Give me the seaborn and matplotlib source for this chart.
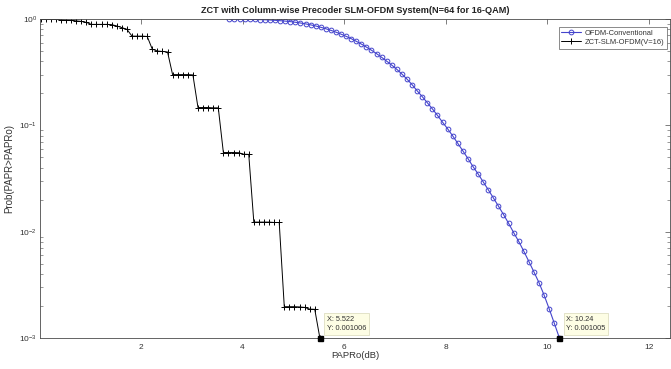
import numpy as np
import matplotlib
matplotlib.use("Agg")
import matplotlib.pyplot as plt
import seaborn as sns
from matplotlib.ticker import LogLocator, NullFormatter

# ---------------- data ----------------
title_text = "ZCT with Column-wise Precoder SLM-OFDM System(N=64 for 16-QAM)"
x_label = "PAPRo(dB)"
y_label = "Prob(PAPR>PAPRo)"
name_ofdm = "OFDM-Conventional"
name_zct = "ZCT-SLM-OFDM(V=16)"

# conventional OFDM CCDF, 0.1 dB grid from 3.74 to 10.24 dB
ofdm_x = np.round(np.arange(66) * 0.1 + 3.74, 2)
ofdm_y = [0.998, 0.9974, 0.9964, 0.995, 0.993, 0.9906, 0.9875, 0.9834, 0.9785, 0.972,
          0.964, 0.955, 0.945, 0.932, 0.917, 0.900, 0.881, 0.860, 0.836, 0.810,
          0.782, 0.752, 0.720, 0.687, 0.653, 0.617, 0.581, 0.544, 0.508, 0.472,
          0.436, 0.401, 0.368, 0.336, 0.303, 0.272, 0.241, 0.211, 0.186, 0.163,
          0.1426, 0.124, 0.107, 0.0927, 0.0795, 0.0677, 0.0575, 0.0487, 0.0409, 0.0349,
          0.0294, 0.0248, 0.0208, 0.0174, 0.0145, 0.0120, 0.0098, 0.0081, 0.00655, 0.00524,
          0.00418, 0.00331, 0.00253, 0.00188, 0.00138, 0.001005]

# ZCT-SLM-OFDM CCDF, 0.1 dB grid from 0.022 to 5.522 dB
zct_x = np.round(np.arange(56) * 0.1 + 0.022, 3)
zct_y = [1.0, 1.0, 0.995, 0.99, 0.985, 0.975, 0.97, 0.96, 0.95, 0.93,
         0.89, 0.89, 0.89, 0.89, 0.885, 0.86, 0.83, 0.80, 0.69, 0.69,
         0.69, 0.685, 0.52, 0.50, 0.495, 0.49, 0.30, 0.30, 0.30, 0.30,
         0.298, 0.147, 0.147, 0.147, 0.146, 0.146, 0.0555, 0.0555, 0.0555, 0.0553,
         0.0535, 0.0533, 0.0123, 0.0123, 0.0123, 0.0123, 0.0122, 0.0122, 0.00197, 0.00197,
         0.00197, 0.00196, 0.00194, 0.00187, 0.00186, 0.001006]

tips_x = [5.522, 10.24]
tips_y = [0.001006, 0.001005]
tips_text = ["X: 5.522\nY: 0.001006", "X: 10.24\nY: 0.001005"]

x_ticks = [2, 4, 6, 8, 10, 12]

# ---------------- style ----------------
sns.set_theme(style="white")
plt.rcParams["font.family"] = ["Liberation Sans", "DejaVu Sans"]
plt.rcParams["mathtext.fontset"] = "custom"
plt.rcParams["mathtext.rm"] = "Liberation Sans"
plt.rcParams["mathtext.it"] = "Liberation Sans:italic"
plt.rcParams["mathtext.bf"] = "Liberation Sans:bold"

text_col = "#333333"
axis_col = "#4a4a4a"
blue = "#4444cc"

fig = plt.figure(figsize=(6.71, 3.69), dpi=100)
ax = fig.add_axes([40 / 671, 31 / 369, 630 / 671, 319 / 369])

sns.lineplot(x=ofdm_x, y=ofdm_y, ax=ax, color=blue, linewidth=0.8, marker="o",
             markersize=3.4, markerfacecolor="none", markeredgecolor=blue,
             markeredgewidth=0.7, label=name_ofdm, estimator=None, sort=False)
sns.lineplot(x=zct_x, y=zct_y, ax=ax, color="black", linewidth=0.7, marker="+",
             markersize=4.5, markeredgewidth=0.7, markeredgecolor="black",
             label=name_zct, estimator=None, sort=False)

ax.set_yscale("log")
ax.set_ylim(1e-3, 1.0)
ax.set_xlim(0.01, 12.42)
ax.set_xticks(x_ticks)
ax.set_xticklabels([str(t) for t in x_ticks])
ax.yaxis.set_major_locator(LogLocator(base=10, numticks=10))
ax.yaxis.set_minor_locator(LogLocator(base=10, subs=np.arange(2, 10), numticks=20))
ax.yaxis.set_minor_formatter(NullFormatter())

ax.tick_params(axis="both", which="major", direction="in", top=True, right=True,
               length=3.5, width=0.5, colors=axis_col, labelcolor=text_col,
               labelsize=6)
ax.tick_params(axis="x", which="major", pad=4)
ax.tick_params(axis="y", which="major", pad=2)
ax.tick_params(axis="y", which="minor", direction="in", left=True, right=True,
               length=2, width=0.4, colors=axis_col)
for s in ax.spines.values():
    s.set_color(axis_col)
    s.set_linewidth(0.6)
    s.set_visible(True)

ax.set_title(title_text, fontsize=6.6, fontweight="bold", color="#222222", pad=4)
ax.set_xlabel(x_label, fontsize=6.8, color=text_col)
ax.set_ylabel(y_label, fontsize=7, color=text_col)
ax.xaxis.set_label_coords(0.5, -0.040)
ax.yaxis.set_label_coords(-0.041, 0.53)

# data tips
for tx, ty, tt in zip(tips_x, tips_y, tips_text):
    ax.plot([tx], [ty], marker="s", markersize=3.6, color="black",
            clip_on=False, zorder=5)
    ax.annotate(tt, xy=(tx, ty), xytext=(5, 4), textcoords="offset points",
                ha="left", va="bottom", fontsize=5.3, color="#333333",
                linespacing=1.5,
                bbox=dict(boxstyle="square,pad=0.35", facecolor="#fdfde4",
                          edgecolor="#d8d8b8", linewidth=0.5),
                annotation_clip=False, zorder=6)

leg = ax.legend(loc="upper right", bbox_to_anchor=(0.995, 0.975), fontsize=5.4,
                frameon=True, fancybox=False, edgecolor="#333333",
                borderpad=0.35, labelspacing=0.25, handlelength=2.6,
                handletextpad=0.5, borderaxespad=0.0)
leg.get_frame().set_linewidth(0.5)
for t in leg.get_texts():
    t.set_color(text_col)

fig.savefig("out.png", dpi=100, facecolor="white")
